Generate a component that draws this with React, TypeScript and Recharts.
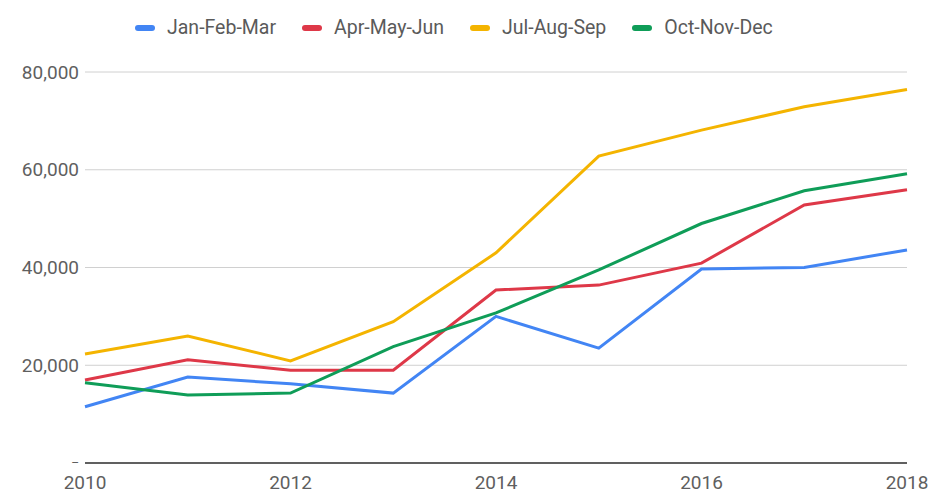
import { LineChart, Line, XAxis, YAxis, CartesianGrid } from "recharts";

const years = [2010, 2011, 2012, 2013, 2014, 2015, 2016, 2017, 2018];
const janFebMar = [11500, 17600, 16200, 14300, 30000, 23500, 39700, 40000, 43600];
const aprMayJun = [17000, 21100, 19000, 19000, 35400, 36400, 40900, 52800, 55900];
const julAugSep = [22300, 26000, 20900, 28900, 43000, 62800, 68100, 72900, 76400];
const octNovDec = [16400, 13900, 14300, 23800, 30700, 39500, 49000, 55700, 59200];

const yTicks = [0, 20000, 40000, 60000, 80000];
const xTicks = [2010, 2012, 2014, 2016, 2018];

const series = [
  { key: "q1", name: "Jan-Feb-Mar", color: "#4285F4", values: janFebMar },
  { key: "q2", name: "Apr-May-Jun", color: "#DE3848", values: aprMayJun },
  { key: "q3", name: "Jul-Aug-Sep", color: "#F4B400", values: julAugSep },
  { key: "q4", name: "Oct-Nov-Dec", color: "#0F9D58", values: octNovDec },
];

const data = years.map((year, i) => {
  const row: Record<string, number> = { year };
  series.forEach((s) => {
    row[s.key] = s.values[i];
  });
  return row;
});

const font = "Roboto, 'Noto Sans', sans-serif";

function YTick(props: any) {
  const { x, y, payload } = props;
  // the zero label shows only as a short dash in the original
  if (payload.value === 0) {
    return (
      <text x={x} y={y} dy="0.35em" textAnchor="end" fill="#5f5f5f" fontSize={12} fontFamily={font}>
        –
      </text>
    );
  }
  return (
    <text x={x} y={y} dy="0.35em" textAnchor="end" fill="#5f5f5f" fontSize={19} fontFamily={font}>
      {payload.value.toLocaleString("en-US")}
    </text>
  );
}

export default function App() {
  return (
    <div style={{ position: "absolute", left: 0, top: 0, width: 928, height: 493, background: "#fff" }}>
      {/* legend */}
      <div
        style={{
          position: "absolute",
          top: 16,
          left: 135,
          display: "flex",
          alignItems: "center",
          fontFamily: font,
          fontSize: 19.5,
          color: "#5a5a5a",
          zIndex: 2,
        }}
      >
        {series.map((s) => (
          <div key={s.key} style={{ display: "flex", alignItems: "center", marginRight: 26 }}>
            <span
              style={{
                display: "inline-block",
                width: 20,
                height: 6,
                borderRadius: 3,
                background: s.color,
                marginRight: 12,
              }}
            />
            <span>{s.name}</span>
          </div>
        ))}
      </div>
      <LineChart width={928} height={493} data={data} margin={{ top: 72, right: 21, left: 0, bottom: 0 }}>
        <CartesianGrid vertical={false} stroke="#d0d0d0" strokeWidth={1} />
        <XAxis
          dataKey="year"
          type="number"
          domain={[2010, 2018]}
          ticks={xTicks}
          height={30}
          tickLine={false}
          tickSize={0}
          tickMargin={13}
          axisLine={{ stroke: "#333", strokeWidth: 1.5 }}
          tick={{ fill: "#5f5f5f", fontSize: 19, fontFamily: font }}
        />
        <YAxis
          type="number"
          domain={[0, 80000]}
          ticks={yTicks}
          width={85}
          axisLine={false}
          tickLine={false}
          tickSize={0}
          tickMargin={6}
          tick={<YTick />}
        />
        {series.map((s) => (
          <Line
            key={s.key}
            type="linear"
            dataKey={s.key}
            name={s.name}
            stroke={s.color}
            strokeWidth={3}
            dot={false}
            isAnimationActive={false}
          />
        ))}
      </LineChart>
    </div>
  );
}
